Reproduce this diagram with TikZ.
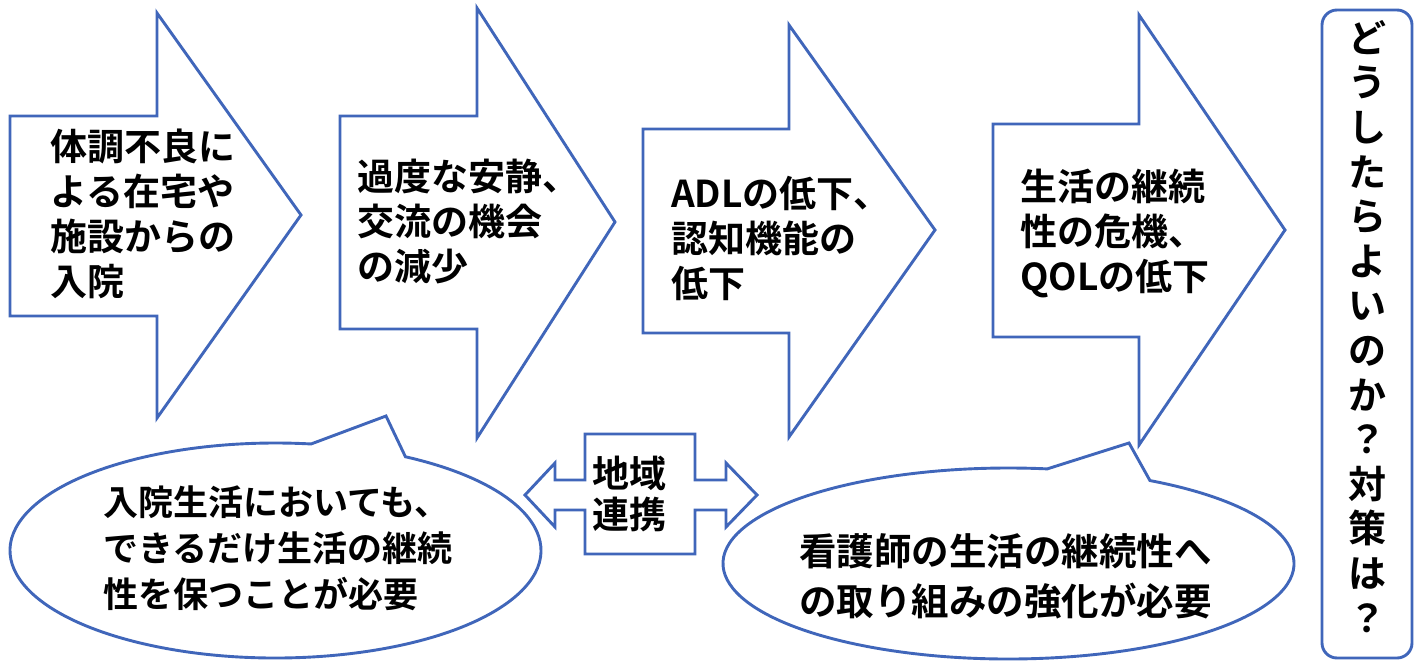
\documentclass[tikz,border=0pt]{standalone}
\usepackage{fontspec}
\newfontfamily\jp{Noto Sans CJK JP Bold}
\definecolor{obl}{HTML}{4066BA}
\tikzset{
  shp/.style={draw=obl, line width=2.9pt, fill=white, line join=miter},
  txt/.style={anchor=north west, inner sep=0pt, align=left, text=black},
}
\begin{document}
\begin{tikzpicture}[x=1pt,y=-1pt]
\useasboundingbox[fill=white] (0,0) rectangle (1419,661);
% step arrows
\draw[shp] (10,116) -- (157,116) -- (157,13) -- (301,215) -- (157,418) -- (157,316) -- (10,316) -- cycle;
\draw[shp] (340,116) -- (477,116) -- (477,8) -- (615,222) -- (477,438) -- (477,329) -- (340,329) -- cycle;
\draw[shp] (643,129) -- (789,129) -- (789,25) -- (935,230) -- (789,437) -- (789,333) -- (643,333) -- cycle;
\draw[shp] (993,124) -- (1139,124) -- (1139,15) -- (1285,230) -- (1139,445) -- (1139,337) -- (993,337) -- cycle;
\node[txt, font=\jp\fontsize{37}{45}\selectfont] (t1) at (50,129) {体調不良に\\よる在宅や\\施設からの\\入院};
\node[txt, font=\jp\fontsize{37}{45}\selectfont] (t2) at (357,159) {過度な安静、\\交流の機会\\の減少};
\node[txt, font=\jp\fontsize{37}{45}\selectfont] (t3) at (671,176) {ADLの低下、\\認知機能の\\低下};
\node[txt, font=\jp\fontsize{37}{45}\selectfont] (t4) at (1020,169) {生活の継続\\性の危機、\\QOLの低下};
% speech bubbles
\draw[shp] ([shift={(275.5,550.5)}]-60.7:265.5 and 107.5) arc[start angle=-60.7, end angle=277.7, x radius=265.5, y radius=107.5] -- (386,416) -- cycle;
\draw[shp] ([shift={(1008.5,563.5)}]-60.3:285.5 and 95.5) arc[start angle=-60.3, end angle=277.8, x radius=285.5, y radius=95.5] -- (1129,443) -- cycle;
\node[txt, font=\jp\fontsize{35}{46}\selectfont] (b1) at (103,486) {入院生活においても、\\できるだけ生活の継続\\性を保つことが必要};
\node[txt, font=\jp\fontsize{37.5}{50}\selectfont] (b2) at (799,533) {看護師の生活の継続性へ\\の取り組みの強化が必要};
% left-right arrow callout
\draw[shp] (585,434) -- (695,434) -- (695,480) -- (726,480) -- (726,463) -- (757,495) -- (726,527) -- (726,510) -- (695,510) -- (695,554) -- (585,554) -- (585,510) -- (555,510) -- (555,527) -- (525,495) -- (555,463) -- (555,480) -- (585,480) -- cycle;
\node[txt, font=\jp\fontsize{37}{41}\selectfont] (c1) at (592,456) {地域\\連携};
% right box
\draw[shp, rounded corners=15pt] (1322,10) rectangle (1412,658);
\node[anchor=north, inner sep=0pt, align=center, font=\jp\fontsize{38}{44.6}\selectfont] (q) at (1367,20) {ど\\う\\し\\た\\ら\\よ\\い\\の\\か\\？\\対\\策\\は\\？};
\end{tikzpicture}
\end{document}
